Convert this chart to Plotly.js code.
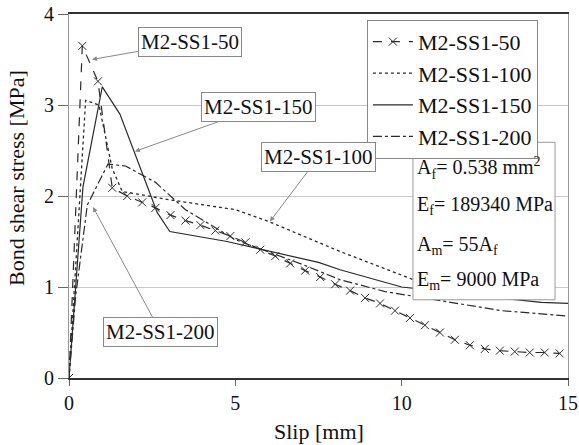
<!DOCTYPE html>
<html>
<head>
<meta charset="utf-8">
<script src="https://cdn.plot.ly/plotly-3.0.1.min.js"></script>
<style>html,body{margin:0;padding:0;background:#fff;}#chart{width:579px;height:445px;}</style>
</head>
<body>
<div id="chart"></div>
<script>
// Series names
const seriesNames = ["M2-SS1-50", "M2-SS1-100", "M2-SS1-150", "M2-SS1-200"];

// M2-SS1-50 (dashed with x markers)
const s50x = [0, 0.4, 0.87, 1.3, 1.75, 2.2, 2.6, 3.05, 3.5, 3.95, 4.4, 4.85, 5.3, 5.75, 6.2, 6.65, 7.1, 7.55, 8.0, 8.45, 8.9, 9.35, 9.8, 10.25, 10.7, 11.15, 11.6, 12.05, 12.5, 12.95, 13.4, 13.85, 14.3, 14.75];
const s50y = [0, 3.65, 3.26, 2.09, 2.0, 1.93, 1.87, 1.79, 1.73, 1.68, 1.62, 1.56, 1.49, 1.41, 1.34, 1.26, 1.18, 1.11, 1.03, 0.96, 0.88, 0.82, 0.74, 0.66, 0.58, 0.5, 0.42, 0.36, 0.32, 0.3, 0.29, 0.28, 0.28, 0.27];

// M2-SS1-100 (dotted)
const s100x = [0, 0.35, 0.5, 0.9, 1.3, 1.6, 3.0, 5.0, 6.0, 8.15, 10.0, 10.5];
const s100y = [0, 2.2, 3.05, 3.0, 2.3, 2.05, 1.96, 1.85, 1.72, 1.39, 1.13, 1.06];

// M2-SS1-150 (solid)
const s150x = [0, 0.2, 0.42, 1.0, 1.53, 2.65, 3.03, 4.75, 7.5, 8.15, 10.0, 14.2, 15.0];
const s150y = [0, 1.0, 2.1, 3.2, 2.9, 1.82, 1.61, 1.5, 1.27, 1.19, 1.0, 0.83, 0.82];

// M2-SS1-200 (dash-dot)
const s200x = [0, 0.2, 0.55, 1.17, 1.7, 2.6, 3.5, 5.0, 7.0, 8.15, 9.5, 11.3, 13.0, 15.0];
const s200y = [0, 0.9, 1.9, 2.35, 2.33, 2.15, 1.85, 1.52, 1.25, 1.08, 0.95, 0.84, 0.74, 0.68];

// Axis ticks
const xTicks = [0, 5, 10, 15];
const yTicks = [0, 1, 2, 3, 4];

const FONT = "'Liberation Serif', 'DejaVu Serif', serif";
const lineCol = "#2a2a2a";

const traces = [
  {x: s50x, y: s50y, name: seriesNames[0], mode: "lines+markers",
   line: {color: lineCol, width: 1.2, dash: "dash"},
   marker: {symbol: "x-thin-open", size: 8, line: {color: lineCol, width: 1}}},
  {x: s100x, y: s100y, name: seriesNames[1], mode: "lines",
   line: {color: lineCol, width: 1.3, dash: "dot"}},
  {x: s150x, y: s150y, name: seriesNames[2], mode: "lines",
   line: {color: lineCol, width: 1.2, dash: "solid"}},
  {x: s200x, y: s200y, name: seriesNames[3], mode: "lines",
   line: {color: lineCol, width: 1.2, dash: "dashdot"}}
];

const lblFont = {family: FONT, size: 21, color: "#111"};
function label(text, x, y, ax, ay) {
  return {text: text, x: x, y: y, ax: ax, ay: ay, xref: "x", yref: "y", axref: "x", ayref: "y",
    showarrow: true, arrowhead: 2, arrowsize: 1, arrowwidth: 1, arrowcolor: "#888",
    font: lblFont, bgcolor: "#fff", bordercolor: "#888", borderwidth: 1, borderpad: 2};
}
const pFont = {family: FONT, size: 20, color: "#111"};
function ptext(text, yy) {
  return {text: text, x: 10.4, y: yy, xref: "x", yref: "y", xanchor: "left", yanchor: "middle",
    showarrow: false, font: pFont};
}

const layout = {
  width: 579, height: 445,
  margin: {l: 69, r: 11, t: 14, b: 67},
  paper_bgcolor: "#fff", plot_bgcolor: "#fff",
  font: {family: FONT, size: 20, color: "#111"},
  showlegend: true,
  legend: {x: 0.597, y: 0.984, xanchor: "left", yanchor: "top",
    bgcolor: "#fff", bordercolor: "#888", borderwidth: 1,
    font: {family: FONT, size: 22, color: "#111"}, tracegroupgap: 0, itemwidth: 40},
  xaxis: {range: [0, 15], tickvals: xTicks, ticktext: xTicks.map(String),
    showgrid: false, zeroline: false, showline: true, linecolor: "#333", linewidth: 2, mirror: true,
    ticks: "outside", ticklen: 6, tickcolor: "#666", tickfont: {family: FONT, size: 20, color: "#111"}},
  yaxis: {range: [0, 4], tickvals: yTicks, ticktext: yTicks.map(String),
    showgrid: true, gridcolor: "#c8c8c8", gridwidth: 1, zeroline: false,
    showline: true, linecolor: "#999", linewidth: 1, mirror: true,
    ticks: "outside", ticklen: 10, tickcolor: "#666", tickfont: {family: FONT, size: 20, color: "#111"}},
  shapes: [
    {type: "rect", xref: "x", yref: "y", x0: 10.34, x1: 14.61, y0: 0.86, y1: 2.59,
     fillcolor: "#fff", line: {color: "#999", width: 1}, layer: "above"}
  ],
  annotations: [
    label("M2-SS1-50", 0.69, 3.5, 3.64, 3.69),
    label("M2-SS1-150", 1.98, 2.49, 5.71, 2.975),
    label("M2-SS1-100", 6.04, 1.72, 7.51, 2.43),
    label("M2-SS1-200", 0.72, 1.88, 2.75, 0.507),
    ptext("A<sub>f</sub>= 0.538 mm<sup>2</sup>", 2.31),
    ptext("E<sub>f</sub>= 189340 MPa", 1.90),
    ptext("A<sub>m</sub>= 55A<sub>f</sub>", 1.46),
    ptext("E<sub>m</sub>= 9000 MPa", 1.07),
    {text: "Slip [mm]", xref: "paper", yref: "paper", x: 0.5, y: -0.147, yanchor: "middle",
     showarrow: false, font: {family: FONT, size: 22, color: "#111"}},
    {text: "Bond shear stress [MPa]", xref: "paper", yref: "paper", x: -0.104, y: 0.55,
     xanchor: "center", yanchor: "middle", textangle: -90,
     showarrow: false, font: {family: FONT, size: 22, color: "#111"}}
  ]
};

Plotly.newPlot("chart", traces, layout, {displayModeBar: false, staticPlot: true});
</script>
</body>
</html>
